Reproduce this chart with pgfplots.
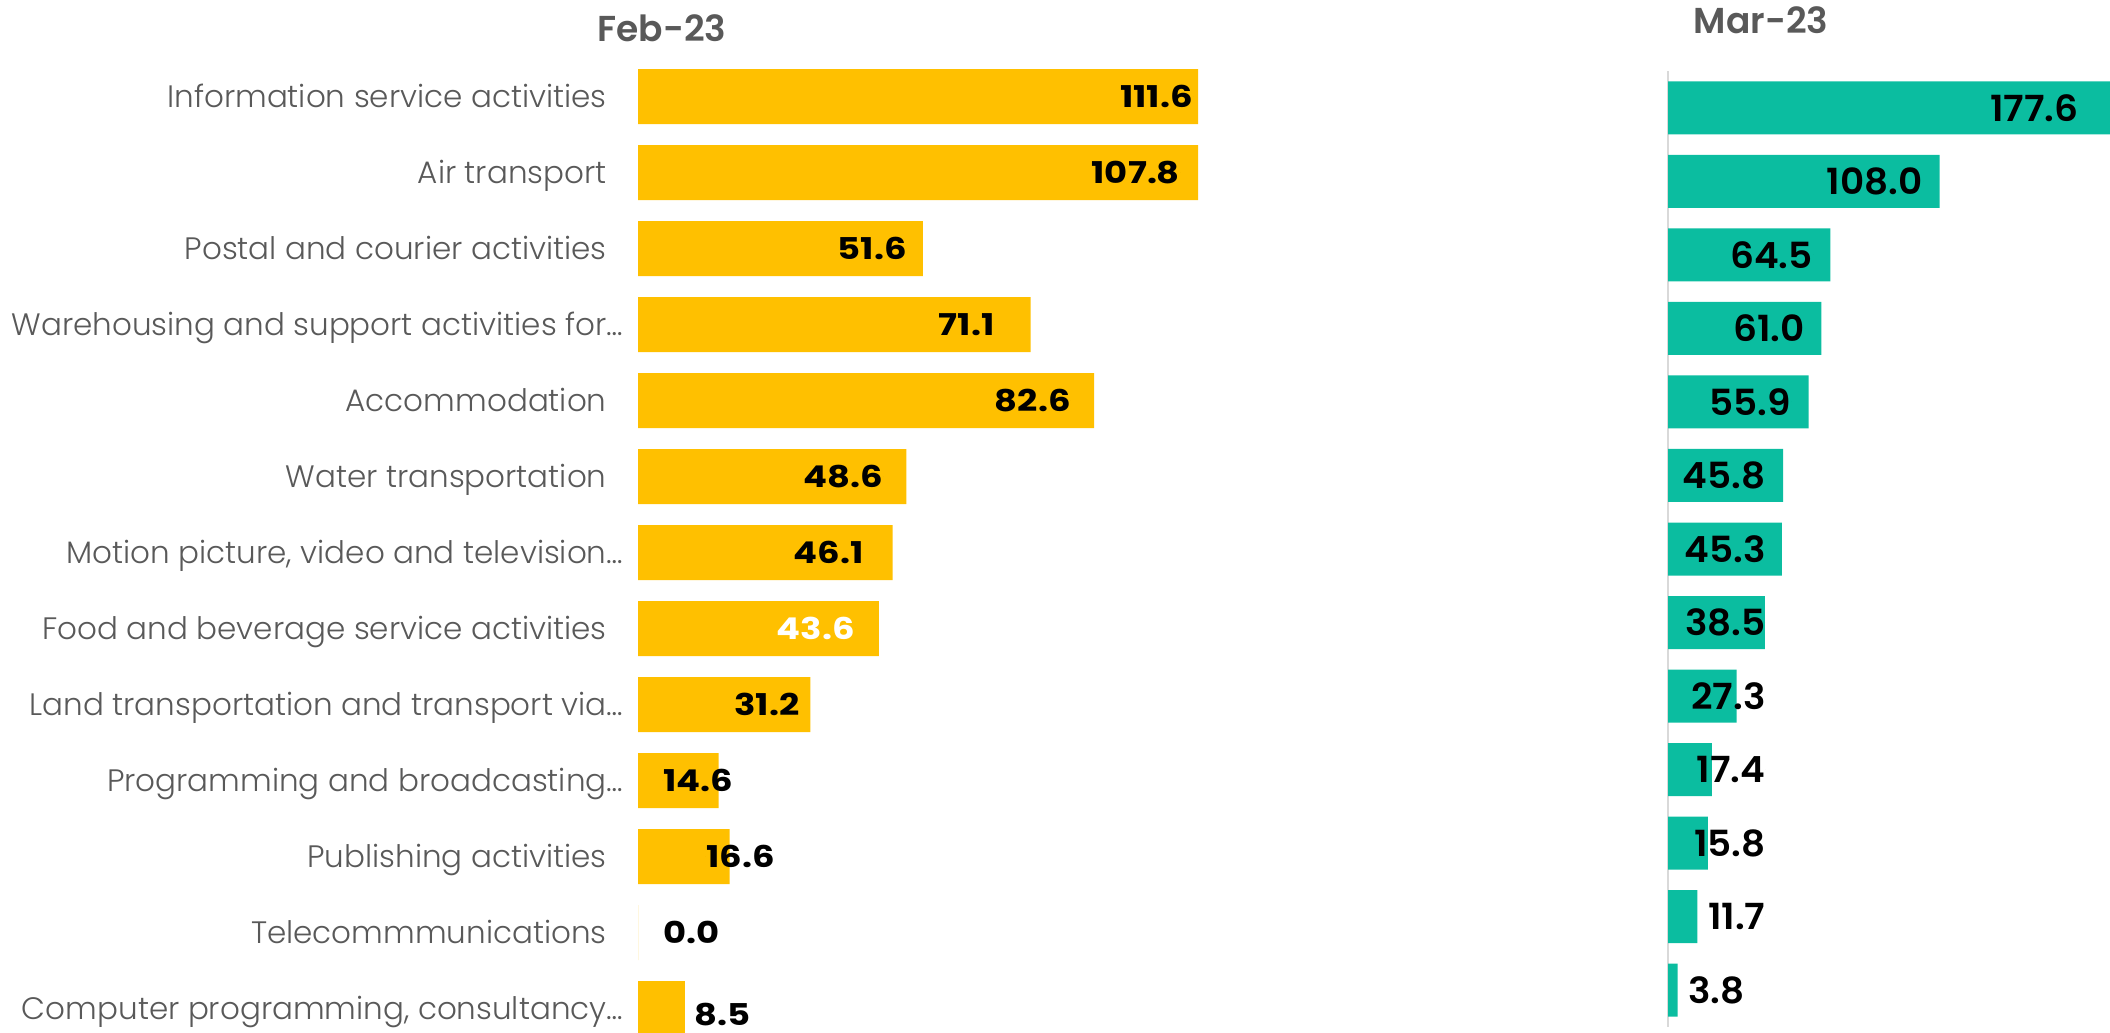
\documentclass[border=0pt]{standalone}
\usepackage{pgfplots}
\pgfplotsset{compat=1.18}
\usepackage{pgfplotstable}
\usepackage{fontspec}
\setmainfont{Poppins Light}
\newfontfamily\febnumfont{Poppins Bold}[FakeStretch=1.18]
\newfontfamily\marnumfont{Poppins SemiBold}[FakeStretch=1.04]
\newfontfamily\headfont{Poppins SemiBold}

\definecolor{febyellow}{HTML}{FFC000}
\definecolor{marteal}{HTML}{0BBDA0}
\definecolor{txtgray}{HTML}{595959}
\definecolor{axgray}{HTML}{D9D9D9}

% idx: row from the top; val: value; lx, ly: where the value label ends
\pgfplotstableread{
idx val   lx    ly
0   111.6 100.5 0
1   107.8 98.2  1
2   51.6  48.7  2
3   71.1  64.6  3
4   82.6  78.4  4
5   48.6  44.4  5
6   46.1  40.9  6
8   31.2  29.3  8
}\febblack
% short bars: lx is where the value label starts
\pgfplotstableread{
idx val   lx    ly
9   14.6  4.5   9
10  16.6  12.3  10
11  0.0   4.5   11
12  8.5   10.2  12.08
}\febshort
\pgfplotstableread{
idx val  lx   ly
7   43.6 39.3 7
}\febwhite
\pgfplotstableread{
idx val
0   111.6
1   107.8
2   51.6
3   71.1
4   82.6
5   48.6
6   46.1
7   43.6
8   31.2
9   14.6
10  16.6
11  0.0
12  8.5
}\febbars
\pgfplotstableread{
idx val   lx
0   177.6 163.4
1   108.0 101.4
2   64.5  57.7
3   61.0  54.5
4   55.9  48.9
5   45.8  38.9
6   45.3  38.9
7   38.5  38.9
8   27.3  38.9
9   17.4  38.9
10  15.8  38.9
11  11.7  38.9
12  3.8   30.6
}\mardata

\begin{document}
\begin{tikzpicture}
\path[use as bounding box] (0,0) rectangle (1055pt,516.5pt);

\pgfplotsset{
  panel/.style={
    scale only axis,
    anchor=south west,
    ymin=-0.5, ymax=12.5,
    y dir=reverse,
    xmin=0,
    xtick=\empty,
    tick style={draw=none},
    clip mode=individual,
  },
  labels/.style={
    only marks, mark=*, mark size=0pt,
    mark options={draw=none, fill=none},
    nodes near coords,
    point meta=explicit symbolic,
    every node near coord/.append style={anchor=east, inner sep=0pt, text depth=0pt, #1},
  },
}

% February panel
\begin{axis}[panel,
  at={(319pt,-6.75pt)}, width=280pt, height=494pt,
  xmax=101.4,
  axis line style={draw=none},
  ytick={0,...,12},
  yticklabels={
    {Information service activities},
    {Air transport},
    {Postal and courier activities},
    {Warehousing and support activities for\rlap{…}},
    {Accommodation},
    {Water transportation},
    {Motion picture, video and television\rlap{…}},
    {Food and beverage service activities},
    {Land transportation and transport via\rlap{…}},
    {Programming and broadcasting\rlap{…}},
    {Publishing activities},
    {Telecommmunications},
    {Computer programming, consultancy\rlap{…}},
  },
  yticklabel style={anchor=east, inner sep=0pt, xshift=-15.5pt,
    text height=10.9pt, text depth=0pt,
    font=\fontsize{15.5}{18}\selectfont, text=txtgray},
]
\addplot[xbar, bar shift=0pt, bar width=27.5pt, fill=febyellow, draw=none]
  table[x=val, y=idx] {\febbars};
\addplot[labels={font=\febnumfont\fontsize{15}{18}\selectfont, text=black}]
  table[x=lx, y=ly, meta=val] {\febblack};
\addplot[labels={font=\febnumfont\fontsize{15}{18}\selectfont, text=black, anchor=west}]
  table[x=lx, y=ly, meta=val] {\febshort};
\addplot[labels={font=\febnumfont\fontsize{15}{18}\selectfont, text=white}]
  table[x=lx, y=ly, meta=val] {\febwhite};
\end{axis}

% March panel
\begin{axis}[panel,
  at={(834pt,3pt)}, width=221pt, height=478pt,
  xmax=175.7,
  axis x line=none,
  axis y line=left,
  axis line style={-, draw=axgray, line width=1pt},
  ytick=\empty,
]
\addplot[xbar, bar shift=0pt, bar width=26.5pt, fill=marteal, draw=none]
  table[x=val, y=idx] {\mardata};
\addplot[labels={font=\marnumfont\fontsize{18}{20}\selectfont, text=black}]
  table[x=lx, y=idx, meta=val] {\mardata};
\end{axis}

\node[font=\headfont\fontsize{18}{20}\selectfont, text=txtgray] at (331pt,502.5pt) {Feb-23};
\node[font=\headfont\fontsize{18}{20}\selectfont, text=txtgray] at (880.5pt,506.5pt) {Mar-23};
\end{tikzpicture}
\end{document}
